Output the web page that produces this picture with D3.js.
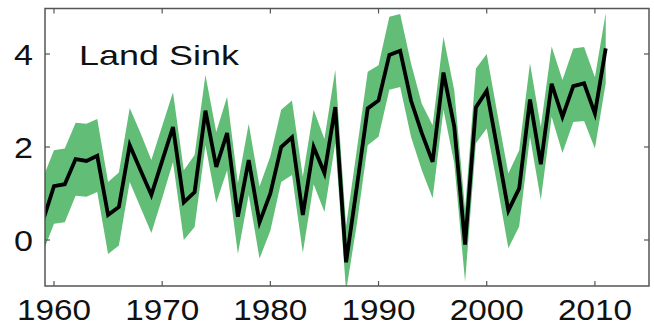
<!DOCTYPE html>
<html lang="en">
<head>
    <meta charset="UTF-8">
    <title>Land Sink</title>
    <script src="https://d3js.org/d3.v7.min.js"></script>
    <style>
        body { margin: 0; background: #fff; }
        .band { fill: #62bd77; stroke: none; }
        .line { fill: none; stroke: #000; stroke-width: 3.8px; stroke-linejoin: miter; }
        .frame { fill: none; stroke: #555; stroke-width: 1.5px; }
        .tick { stroke: #555; stroke-width: 1.2px; }
        .label { font-family: "Liberation Sans", Arial, sans-serif; fill: #111; }
    </style>
</head>
<body>
<script>
    // data
    const years = d3.range(1959, 2012);
    const sink = [
        0.43, 1.16, 1.2, 1.74, 1.7, 1.81, 0.54, 0.71, 2.04, 1.5,
        0.97, 1.7, 2.43, 0.81, 1.03, 2.78, 1.57, 2.3, 0.5, 1.72,
        0.38, 1.0, 2.0, 2.21, 0.54, 2.0, 1.44, 2.86, -0.48, 1.15,
        2.83, 3.0, 3.98, 4.07, 3.0, 2.3, 1.68, 3.6, 2.44, -0.1,
        2.85, 3.21, 1.94, 0.63, 1.11, 3.02, 1.63, 3.36, 2.65, 3.31,
        3.37, 2.72, 4.12
    ];
    const upper = [
        1.35, 1.93, 1.97, 2.52, 2.5, 2.6, 1.25, 1.45, 2.84, 2.3,
        1.72, 2.45, 3.18, 1.5, 1.83, 3.55, 2.32, 3.08, 1.22, 2.5,
        1.15, 1.8, 2.8, 3.0, 1.36, 2.8, 2.17, 3.66, 0.3, 1.95,
        3.62, 3.76, 4.8, 4.86, 3.8, 2.93, 2.47, 4.37, 3.22, 0.65,
        3.69, 4.0, 2.7, 1.43, 1.93, 3.8, 2.43, 4.16, 3.44, 4.12,
        4.15, 3.5, 4.88
    ];
    const lower = [
        -0.25, 0.35, 0.38, 0.95, 0.93, 1.03, -0.3, -0.12, 1.25, 0.7,
        0.15, 0.9, 1.68, 0.0, 0.28, 2.04, 0.8, 1.5, -0.3, 0.97,
        -0.4, 0.2, 1.25, 1.4, -0.28, 1.2, 0.6, 2.08, -1.1, 0.35,
        2.04, 2.22, 3.23, 3.29, 2.22, 1.5, 0.9, 2.8, 1.65, -0.9,
        2.08, 2.4, 1.15, -0.18, 0.29, 2.22, 0.86, 2.65, 1.87, 2.54,
        2.56, 1.97, 3.37
    ];
    const xTicks = [1960, 1970, 1980, 1990, 2000, 2010];
    const yTicks = [0, 2, 4];
    const title = "Land Sink";

    const width = 654, height = 326;
    const m = { left: 45, right: 649, top: 8.5, bottom: 286 };

    const data = years.map((yr, i) => ({ year: yr, v: sink[i], hi: upper[i], lo: lower[i] }));

    const x = d3.scaleLinear().domain([1959.17, 2015]).range([m.left, m.right]);
    const y = d3.scaleLinear().domain([-1, 5]).range([286.5, 7.5]);

    const svg = d3.select("body").append("svg")
        .attr("width", width)
        .attr("height", height);

    svg.append("clipPath").attr("id", "plot")
        .append("rect")
        .attr("x", m.left).attr("y", m.top)
        .attr("width", m.right - m.left).attr("height", m.bottom - m.top);

    const plot = svg.append("g").attr("clip-path", "url(#plot)");

    plot.append("path")
        .datum(data)
        .attr("class", "band")
        .attr("d", d3.area()
            .x(d => x(d.year))
            .y0(d => y(d.lo))
            .y1(d => y(d.hi)));

    plot.append("path")
        .datum(data)
        .attr("class", "line")
        .attr("d", d3.line()
            .x(d => x(d.year))
            .y(d => y(d.v)));

    // frame with inward ticks on all sides
    svg.append("rect")
        .attr("class", "frame")
        .attr("x", m.left).attr("y", m.top)
        .attr("width", m.right - m.left).attr("height", m.bottom - m.top);

    const tickLen = 5;
    const ticks = svg.append("g");
    xTicks.forEach(t => {
        ticks.append("line").attr("class", "tick")
            .attr("x1", x(t)).attr("x2", x(t))
            .attr("y1", m.bottom).attr("y2", m.bottom - tickLen);
        ticks.append("line").attr("class", "tick")
            .attr("x1", x(t)).attr("x2", x(t))
            .attr("y1", m.top).attr("y2", m.top + tickLen);
    });
    yTicks.forEach(t => {
        ticks.append("line").attr("class", "tick")
            .attr("x1", m.left).attr("x2", m.left + tickLen)
            .attr("y1", y(t)).attr("y2", y(t));
        ticks.append("line").attr("class", "tick")
            .attr("x1", m.right).attr("x2", m.right - tickLen)
            .attr("y1", y(t)).attr("y2", y(t));
    });

    // tick labels (the source picture is stretched sideways, so widths are set)
    svg.append("g").selectAll("text")
        .data(xTicks)
        .join("text")
        .attr("class", "label")
        .attr("x", d => x(d) - 37)
        .attr("y", 319.5)
        .attr("font-size", 29)
        .attr("textLength", 74)
        .attr("lengthAdjust", "spacingAndGlyphs")
        .text(d => d);

    svg.append("g").selectAll("text")
        .data(yTicks)
        .join("text")
        .attr("class", "label")
        .attr("x", 14)
        .attr("y", d => y(d) + 10.5)
        .attr("font-size", 29)
        .attr("textLength", 19)
        .attr("lengthAdjust", "spacingAndGlyphs")
        .text(d => d);

    svg.append("text")
        .attr("class", "label")
        .attr("x", 79)
        .attr("y", 65)
        .attr("font-size", 28)
        .attr("textLength", 160)
        .attr("lengthAdjust", "spacingAndGlyphs")
        .text(title);
</script>
</body>
</html>
